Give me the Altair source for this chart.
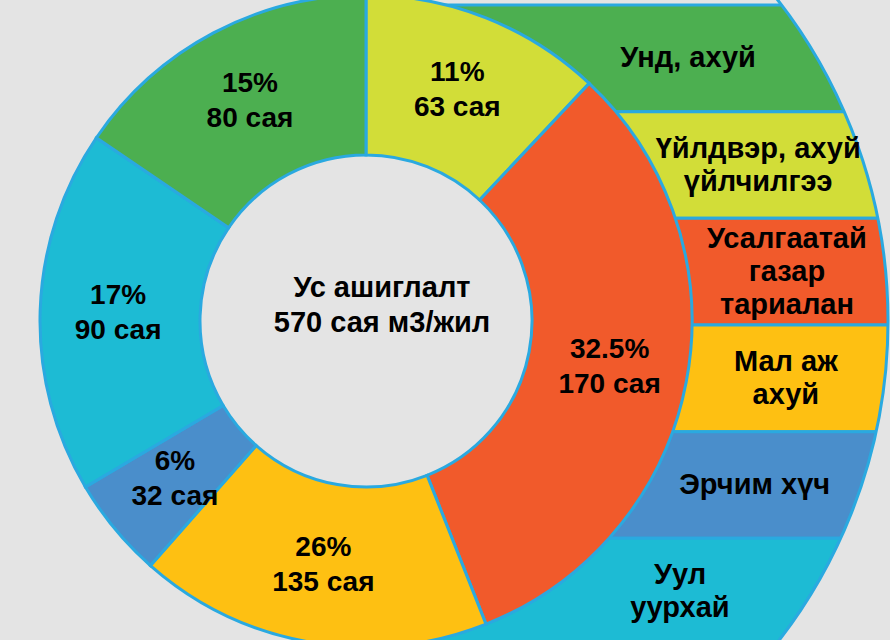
import math
import altair as alt
import pandas as pd

# ---- data (clockwise from 12 o'clock) ----
segments = ["Үйлдвэр, ахуй үйлчилгээ", "Усалгаатай газар тариалан", "Мал аж ахуй",
            "Эрчим хүч", "Уул уурхай", "Унд, ахуй"]
pct_labels = ["11%", "32.5%", "26%", "6%", "17%", "15%"]
volumes = [63, 170, 135, 32, 90, 80]
# share of the circle each slice occupies as drawn in the picture
drawn_share = [12, 32, 17.5, 5, 18, 15.5]
seg_colors = ["#D2DD38", "#F15A2B", "#FEC012", "#4A8ECB", "#1DBBD4", "#4CAF50"]

legend_labels = ["Унд, ахуй", "Үйлдвэр, ахуй\nүйлчилгээ", "Усалгаатай\nгазар\nтариалан",
                 "Мал аж\nахуй", "Эрчим хүч", "Уул\nуурхай"]
legend_colors = ["#4CAF50", "#D2DD38", "#F15A2B", "#FEC012", "#4A8ECB", "#1DBBD4"]

center_title = "Ус ашиглалт\n570 сая м3/жил"

# ---- layout constants ----
BG = "#E4E4E4"
STROKE = "#2AA9E0"
CX, CY = 366, 321
R_OUT, R_IN, R_BIG = 326, 166, 522
TOP, BAND = 5, 106.67
FONT = "Liberation Sans"
FULL = 2 * math.pi
LH_SLICE, LH_LEG = 35, 33

donut_df = pd.DataFrame({
    "i": list(range(len(segments))),
    "seg": segments,
    "share": drawn_share,
    "txt": [f"{p}\n{v} сая" for p, v in zip(pct_labels, volumes)],
})
legend_df = pd.DataFrame({"i": list(range(len(legend_labels))), "lab": legend_labels})

seg_color = alt.Color("seg:N", scale=alt.Scale(domain=segments, range=seg_colors), legend=None)

leg_base = alt.Chart(legend_df).transform_calculate(
    top=f"{TOP} + datum.i * {BAND}",
    bottom=f"{TOP} + (datum.i + 1) * {BAND}",
    mid=f"{TOP} + (datum.i + 0.5) * {BAND}",
    nl="length(split(datum.lab, '\\n'))",
).transform_calculate(
    dy=f"datum.mid - {CY}",
    ty=f"datum.mid - (datum.nl - 1) * {LH_LEG} / 2",
).transform_calculate(
    lx=f"{CX} + ((abs(datum.dy) < {R_OUT} ? sqrt({R_OUT}*{R_OUT} - datum.dy*datum.dy) : 0)"
       f" + sqrt({R_BIG}*{R_BIG} - datum.dy*datum.dy)) / 2",
)

stripes = leg_base.mark_rect(stroke=STROKE, strokeWidth=3).encode(
    x=alt.value(CX), x2=alt.value(900),
    y=alt.Y("top:Q", scale=None, axis=None), y2="bottom:Q",
    fill=alt.Fill("lab:N", scale=alt.Scale(domain=legend_labels, range=legend_colors),
                  legend=None),
)

one = pd.DataFrame({"v": [1]})
mask = alt.Chart(one).mark_arc(radius=R_BIG, radius2=1400, theta=0, theta2=FULL,
                               fill=BG, stroke=STROKE, strokeWidth=3).encode(
    x=alt.value(CX), y=alt.value(CY))

hole = alt.Chart(one).mark_arc(radius=R_IN, theta=0, theta2=FULL, fill=BG).encode(
    x=alt.value(CX), y=alt.value(CY))

donut = alt.Chart(donut_df).mark_arc(radius=R_OUT, radius2=R_IN, stroke=STROKE,
                                     strokeWidth=3).encode(
    theta=alt.Theta("share:Q", stack=True),
    order=alt.Order("i:Q"),
    color=seg_color,
    x=alt.value(CX), y=alt.value(CY),
)

slice_text = alt.Chart(donut_df).mark_text(
    radius=248, font=FONT, fontWeight="bold", fontSize=28, lineBreak="\n",
    lineHeight=LH_SLICE, dy=-LH_SLICE / 2, color="black").encode(
    theta=alt.Theta("share:Q", stack=True),
    order=alt.Order("i:Q"),
    text="txt:N",
    x=alt.value(CX), y=alt.value(CY),
)

leg_text = leg_base.mark_text(font=FONT, fontWeight="bold", fontSize=29, lineBreak="\n",
                              lineHeight=LH_LEG, color="black").encode(
    x=alt.X("lx:Q", scale=None, axis=None),
    y=alt.Y("ty:Q", scale=None, axis=None),
    text="lab:N",
)

center = alt.Chart(pd.DataFrame({"t": [center_title]})).mark_text(
    font=FONT, fontWeight="bold", fontSize=29, lineBreak="\n", lineHeight=35,
    dy=-17, color="black").encode(text="t:N", x=alt.value(382), y=alt.value(305))

chart = alt.layer(stripes, mask, hole, donut, slice_text, leg_text, center).properties(
    width=890, height=640, padding=0, autosize="none", background=BG,
).resolve_scale(color="independent", fill="independent").configure_view(stroke=None)

chart.save("out.html", embed_options={"renderer": "svg", "actions": False})
